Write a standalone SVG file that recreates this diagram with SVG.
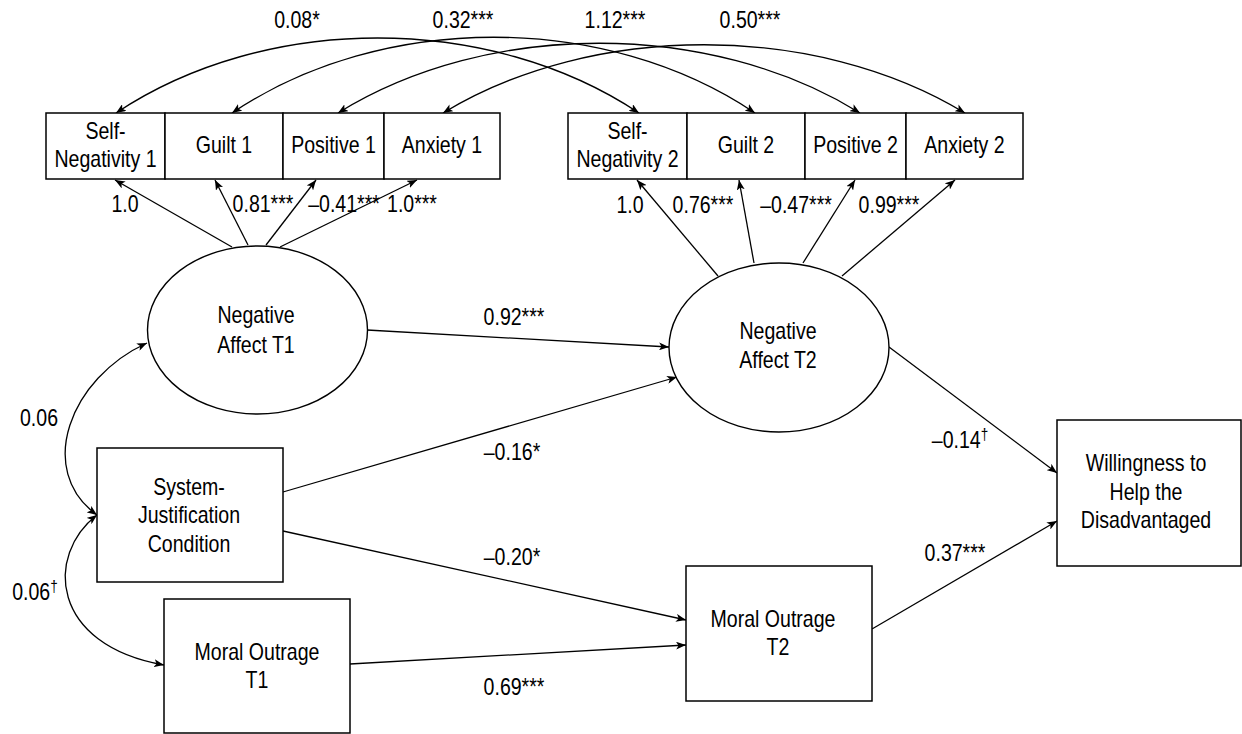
<svg xmlns="http://www.w3.org/2000/svg" width="1242" height="734" viewBox="0 0 1242 734">
<defs>
<style>
text { font-family: "Liberation Sans", Arial, sans-serif; font-size: 23px; fill: #000; text-anchor: middle; }
.box { fill: #fff; stroke: #000; stroke-width: 1.5; }
.ell { fill: #fff; stroke: #000; stroke-width: 1.4; }
.con { fill: none; stroke: #000; stroke-width: 1.3; }
.arr { marker-end: url(#ah); }
.arr2 { marker-start: url(#ah); marker-end: url(#ah); }
.dag { font-size: 16px; }
</style>
<marker id="ah" viewBox="0 0 10 8" refX="10" refY="4" markerWidth="10" markerHeight="8" markerUnits="userSpaceOnUse" orient="auto-start-reverse">
<path d="M0,0 L10,4 L0,8 L2.5,4 z" fill="#000"/>
</marker>
</defs>
<rect width="1242" height="734" fill="#fff"/>

<g id="connectors">
<path class="con arr2" d="M116,113 C266,13 489,13 639,113"/>
<path class="con arr2" d="M232,113 C382,12 605,12 755,113"/>
<path class="con arr2" d="M338,113 C488,20 710,20 860,113"/>
<path class="con arr2" d="M443,113 C593,22 815,22 965,113"/>
<line class="con arr" x1="232" y1="247" x2="115" y2="180"/>
<line class="con arr" x1="248" y1="245" x2="215" y2="180"/>
<line class="con arr" x1="266" y1="245" x2="316" y2="180"/>
<line class="con arr" x1="280" y1="247" x2="417" y2="180"/>
<line class="con arr" x1="718" y1="276" x2="637" y2="180"/>
<line class="con arr" x1="754" y1="263" x2="739" y2="180"/>
<line class="con arr" x1="803" y1="263" x2="855" y2="180"/>
<line class="con arr" x1="842" y1="276" x2="955" y2="180"/>
<line class="con arr" x1="367" y1="330" x2="669" y2="347"/>
<line class="con arr" x1="283" y1="492" x2="677" y2="377"/>
<line class="con arr" x1="283" y1="531" x2="686" y2="620"/>
<line class="con arr" x1="350" y1="664" x2="686" y2="645"/>
<line class="con arr" x1="889" y1="347" x2="1057" y2="473"/>
<line class="con arr" x1="872" y1="629" x2="1057" y2="521"/>
<path class="con arr2" d="M147,343 C70,378 35,470 97,515"/>
<path class="con arr2" d="M97,515 C45,555 50,645 164,665"/>
<text transform="translate(297,28) scale(0.85,1)">0.08*</text>
<text transform="translate(463,28) scale(0.85,1)">0.32***</text>
<text transform="translate(615,28) scale(0.85,1)">1.12***</text>
<text transform="translate(750,28) scale(0.85,1)">0.50***</text>
<text transform="translate(125,212) scale(0.85,1)">1.0</text>
<text transform="translate(263,212) scale(0.85,1)">0.81***</text>
<text transform="translate(344,212) scale(0.85,1)">–0.41***</text>
<text transform="translate(412,212) scale(0.85,1)">1.0***</text>
<text transform="translate(630,213) scale(0.85,1)">1.0</text>
<text transform="translate(703,213) scale(0.85,1)">0.76***</text>
<text transform="translate(796,213) scale(0.85,1)">–0.47***</text>
<text transform="translate(889,213) scale(0.85,1)">0.99***</text>
<text transform="translate(514,325) scale(0.85,1)">0.92***</text>
<text transform="translate(512,460) scale(0.85,1)">–0.16*</text>
<text transform="translate(512,565) scale(0.85,1)">–0.20*</text>
<text transform="translate(514,695) scale(0.85,1)">0.69***</text>
<text transform="translate(960,448) scale(0.85,1)">–0.14<tspan class="dag" dy="-8">†</tspan></text>
<text transform="translate(955,561) scale(0.85,1)">0.37***</text>
<text transform="translate(39,426) scale(0.85,1)">0.06</text>
<text transform="translate(35,600) scale(0.85,1)">0.06<tspan class="dag" dy="-8">†</tspan></text>
</g>

<g id="self-negativity-1">
<rect class="box" x="46" y="113" width="119" height="66"/>
<text transform="translate(105.5,139) scale(0.85,1)">Self-</text>
<text transform="translate(105.5,167) scale(0.85,1)">Negativity 1</text>
</g>
<g id="guilt-1">
<rect class="box" x="165" y="113" width="118" height="66"/>
<text transform="translate(224,153) scale(0.85,1)">Guilt 1</text>
</g>
<g id="positive-1">
<rect class="box" x="283" y="113" width="101" height="66"/>
<text transform="translate(333.5,153) scale(0.85,1)">Positive 1</text>
</g>
<g id="anxiety-1">
<rect class="box" x="384" y="113" width="116" height="66"/>
<text transform="translate(442,153) scale(0.85,1)">Anxiety 1</text>
</g>

<g id="self-negativity-2">
<rect class="box" x="568" y="113" width="119" height="66"/>
<text transform="translate(627.5,139) scale(0.85,1)">Self-</text>
<text transform="translate(627.5,167) scale(0.85,1)">Negativity 2</text>
</g>
<g id="guilt-2">
<rect class="box" x="687" y="113" width="118" height="66"/>
<text transform="translate(746,153) scale(0.85,1)">Guilt 2</text>
</g>
<g id="positive-2">
<rect class="box" x="805" y="113" width="101" height="66"/>
<text transform="translate(855.5,153) scale(0.85,1)">Positive 2</text>
</g>
<g id="anxiety-2">
<rect class="box" x="906" y="113" width="117" height="66"/>
<text transform="translate(964.5,153) scale(0.85,1)">Anxiety 2</text>
</g>

<g id="negative-affect-t1">
<ellipse class="ell" cx="257.5" cy="330" rx="110" ry="84"/>
<text transform="translate(256,323) scale(0.85,1)">Negative</text>
<text transform="translate(256,353) scale(0.85,1)">Affect T1</text>
</g>
<g id="negative-affect-t2">
<ellipse class="ell" cx="779" cy="347.5" rx="110" ry="84.5"/>
<text transform="translate(778,339) scale(0.85,1)">Negative</text>
<text transform="translate(778,368) scale(0.85,1)">Affect T2</text>
</g>
<g id="system-justification">
<rect class="box" x="97" y="448" width="186" height="134"/>
<text transform="translate(189,495) scale(0.85,1)">System-</text>
<text transform="translate(189,523) scale(0.85,1)">Justification</text>
<text transform="translate(189,552) scale(0.85,1)">Condition</text>
</g>
<g id="moral-outrage-t1">
<rect class="box" x="164" y="599" width="186" height="134"/>
<text transform="translate(257,660) scale(0.85,1)">Moral Outrage</text>
<text transform="translate(257,688) scale(0.85,1)">T1</text>
</g>
<g id="moral-outrage-t2">
<rect class="box" x="686" y="566" width="186" height="135"/>
<text transform="translate(773,627) scale(0.85,1)">Moral Outrage</text>
<text transform="translate(778,655) scale(0.85,1)">T2</text>
</g>
<g id="willingness">
<rect class="box" x="1057" y="420" width="184" height="146"/>
<text transform="translate(1146,471) scale(0.85,1)">Willingness to</text>
<text transform="translate(1146,500) scale(0.85,1)">Help the</text>
<text transform="translate(1146,528) scale(0.85,1)">Disadvantaged</text>
</g>
</svg>
